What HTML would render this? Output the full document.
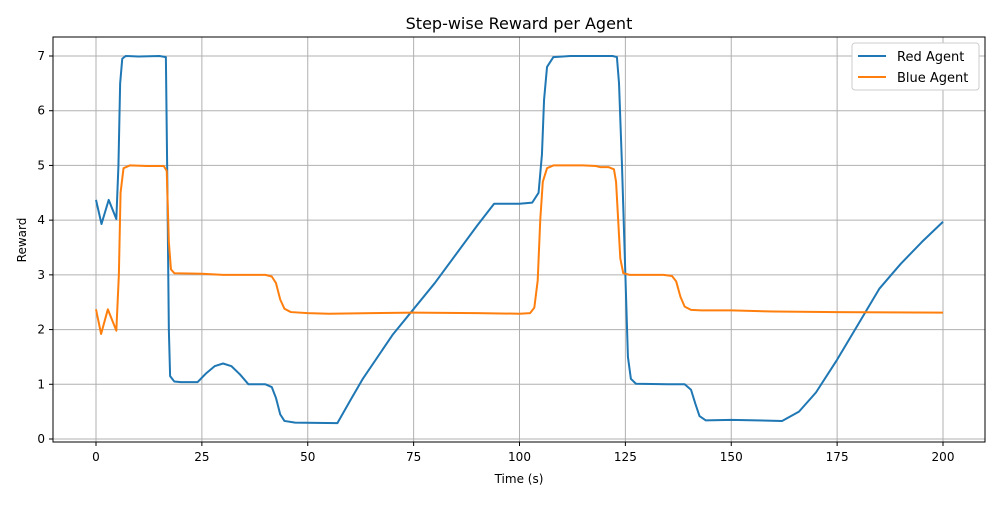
<!DOCTYPE html>
<html><head><meta charset="utf-8"><style>
body{margin:0;background:#fff;font-family:"Liberation Sans","DejaVu Sans",sans-serif}
svg text{font-family:"DejaVu Sans","Liberation Sans",sans-serif;fill:#000}
</style></head><body>
<svg id="chart" width="1000" height="500" viewBox="0 0 1000 500">
<rect width="1000" height="500" fill="#fff"/>
<text x="519" y="29" font-size="16" text-anchor="middle">Step-wise Reward per Agent</text>
<g id="grid"></g>
<g id="ticks"></g>
<rect x="53" y="37" width="932" height="405" fill="none" stroke="#000" stroke-width="1"/>
<g id="lines"></g>
<text x="519" y="483" font-size="12" text-anchor="middle">Time (s)</text>
<text x="26" y="240" font-size="12" text-anchor="middle" transform="rotate(-90 26 240)">Reward</text>
<g>
<rect x="852" y="43" width="127" height="47" rx="3" fill="#fff" stroke="#ccc"/>
<g><line x1="858" y1="56" x2="886" y2="56" stroke="#1f77b4" stroke-width="2"/><text x="897" y="61" font-size="13">Red Agent</text></g>
<g><line x1="858" y1="77" x2="886" y2="77" stroke="#ff7f0e" stroke-width="2"/><text x="897" y="82" font-size="13">Blue Agent</text></g>
</g>
</svg>
<script>
const xTicks=[0,25,50,75,100,125,150,175,200];
const yTicks=[0,1,2,3,4,5,6,7];
const redT=[0,1.3,3,4.8,5.3,5.7,6.2,7,10,15,16.5,16.8,17.2,17.5,18.5,20,24,26,28,30,32,34,36,40,41.5,42.5,43.5,44.5,47,57,60,63,70,80,90,94,100,103,104.5,105.3,105.8,106.5,108,112,122,123,123.5,124.2,125,125.6,126.3,127.5,135,139,140.5,141.5,142.5,144,150,162,166,170,175,180,185,190,195,200];
const redV=[4.37,3.93,4.37,4.02,5,6.5,6.95,7,6.99,7,6.98,5,2,1.15,1.05,1.04,1.04,1.2,1.33,1.38,1.33,1.18,1.0,1.0,0.95,0.75,0.45,0.33,0.3,0.29,0.7,1.1,1.9,2.85,3.9,4.3,4.3,4.32,4.5,5.2,6.2,6.8,6.98,7,7,6.98,6.5,5,3,1.5,1.1,1.01,1.0,1.0,0.9,0.65,0.42,0.34,0.35,0.33,0.5,0.85,1.45,2.1,2.75,3.2,3.6,3.97];
const blueT=[0,1.2,2.8,4.8,5.4,5.8,6.5,8,12,16,16.7,17.2,17.7,18.5,25,30,40,41.5,42.5,43.5,44.5,46,50,55,65,75,90,100,102.5,103.5,104.3,104.9,105.5,106.5,108,115,118,119,121,122.3,122.8,123.3,123.8,124.5,126,134,136,137,138,139,140.5,143,150,160,175,200];
const blueV=[2.37,1.92,2.37,1.98,3,4.5,4.95,5,4.99,4.99,4.9,3.6,3.1,3.03,3.02,3.0,3.0,2.97,2.85,2.55,2.38,2.32,2.3,2.29,2.3,2.31,2.3,2.29,2.3,2.4,2.9,4,4.7,4.95,5,5,4.99,4.97,4.97,4.93,4.7,4,3.3,3.03,3.0,3.0,2.98,2.88,2.6,2.42,2.36,2.35,2.35,2.33,2.32,2.31];
const NS='http://www.w3.org/2000/svg';
const X=v=>96+v*(943-96)/200;
const Y=v=>439-v*(439-56)/7;
const grid=document.getElementById('grid'),ticks=document.getElementById('ticks'),lines=document.getElementById('lines');
function mk(t,a,p){const e=document.createElementNS(NS,t);for(const k in a)e.setAttribute(k,a[k]);p.appendChild(e);return e;}
xTicks.forEach(v=>{
const g=mk('line',{x1:X(v),x2:X(v),y1:37,y2:442,stroke:'#b0b0b0','stroke-width':1},grid);


mk('line',{x1:X(v),x2:X(v),y1:442,y2:446,stroke:'#000'},ticks);
const t=mk('text',{x:X(v),y:461,'font-size':12,'text-anchor':'middle'},ticks);t.textContent=v;


});
yTicks.forEach(v=>{
const g=mk('line',{x1:53,x2:985,y1:Y(v),y2:Y(v),stroke:'#b0b0b0','stroke-width':1},grid);


mk('line',{x1:49,x2:53,y1:Y(v),y2:Y(v),stroke:'#000'},ticks);
const t=mk('text',{x:45,y:Y(v)+4,'font-size':12,'text-anchor':'end'},ticks);t.textContent=v;


});
function series(T,V,c,name){
const p=mk('polyline',{points:T.map((t,i)=>X(t)+','+Y(V[i])).join(' '),fill:'none',stroke:c,'stroke-width':2,'stroke-linejoin':'round'},lines);


}
series(redT,redV,'#1f77b4','red-agent-line');
series(blueT,blueV,'#ff7f0e','blue-agent-line');
</script>
</body></html>
